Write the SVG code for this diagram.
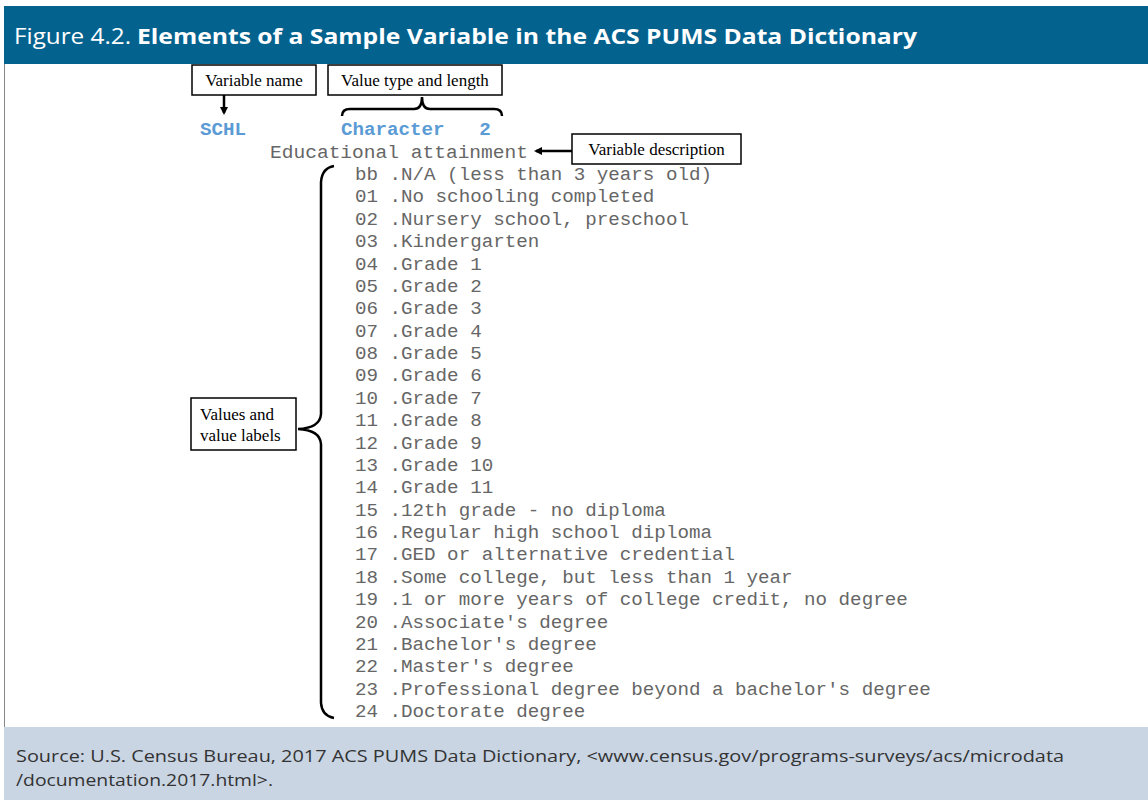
<svg xmlns="http://www.w3.org/2000/svg" width="1148" height="800" viewBox="0 0 1148 800">
<style>
.box{fill:#fff;stroke:#000;stroke-width:1.5}
.lbl{font-family:"Liberation Serif",serif;font-size:17px;fill:#000}
.mono{font-family:"Liberation Mono",monospace;font-size:19.2px;fill:#666}
.key{font-family:"Liberation Mono",monospace;font-size:19.2px;font-weight:bold;fill:#5b9bd5}
.ln{fill:none;stroke:#000;stroke-width:2.5}
.src{font-family:"Open Sans","Liberation Sans",sans-serif;font-size:17px;fill:#333}
</style>
<defs>
<marker id="ah" markerWidth="8" markerHeight="8" refX="6" refY="4" orient="auto" markerUnits="userSpaceOnUse">
<path d="M0,0 L8,4 L0,8 Z" fill="#000"/>
</marker>
</defs>
<rect x="0" y="0" width="1148" height="800" fill="#fff"/>
<rect x="4" y="6" width="1144" height="58" fill="#04628f"/>
<text x="14" y="44" font-family="'Open Sans','Liberation Sans',sans-serif" font-size="22" fill="#fff" textLength="117" lengthAdjust="spacingAndGlyphs">Figure 4.2.</text>
<text x="137" y="44" font-family="'Open Sans','Liberation Sans',sans-serif" font-size="22" font-weight="bold" fill="#fff" textLength="780" lengthAdjust="spacingAndGlyphs">Elements of a Sample Variable in the ACS PUMS Data Dictionary</text>
<line x1="4.5" y1="64" x2="4.5" y2="727" stroke="#888" stroke-width="1"/>
<rect x="4" y="727" width="1144" height="73" fill="#c9d5e3"/>
<text class="src" x="16" y="762" textLength="1048" lengthAdjust="spacingAndGlyphs">Source: U.S. Census Bureau, 2017 ACS PUMS Data Dictionary, &lt;www.census.gov/programs-surveys/acs/microdata</text>
<text class="src" x="16" y="786" textLength="257" lengthAdjust="spacingAndGlyphs">/documentation.2017.html&gt;.</text>

<g id="dictionary">
<text class="key" x="200" y="135">SCHL</text>
<text class="key" x="341" y="135" xml:space="preserve">Character   2</text>
<text class="mono" x="270" y="158" textLength="258" lengthAdjust="spacingAndGlyphs">Educational attainment</text>
<g class="mono">
<text x="355" y="180" xml:space="preserve">bb .N/A (less than 3 years old)</text>
<text x="355" y="202.4">01 .No schooling completed</text>
<text x="355" y="224.8">02 .Nursery school, preschool</text>
<text x="355" y="247.1">03 .Kindergarten</text>
<text x="355" y="269.5">04 .Grade 1</text>
<text x="355" y="291.9">05 .Grade 2</text>
<text x="355" y="314.3">06 .Grade 3</text>
<text x="355" y="336.6">07 .Grade 4</text>
<text x="355" y="359">08 .Grade 5</text>
<text x="355" y="381.4">09 .Grade 6</text>
<text x="355" y="403.8">10 .Grade 7</text>
<text x="355" y="426.1">11 .Grade 8</text>
<text x="355" y="448.5">12 .Grade 9</text>
<text x="355" y="470.9">13 .Grade 10</text>
<text x="355" y="493.3">14 .Grade 11</text>
<text x="355" y="515.6">15 .12th grade - no diploma</text>
<text x="355" y="538">16 .Regular high school diploma</text>
<text x="355" y="560.4">17 .GED or alternative credential</text>
<text x="355" y="582.8">18 .Some college, but less than 1 year</text>
<text x="355" y="605.1">19 .1 or more years of college credit, no degree</text>
<text x="355" y="627.5">20 .Associate's degree</text>
<text x="355" y="649.9">21 .Bachelor's degree</text>
<text x="355" y="672.3">22 .Master's degree</text>
<text x="355" y="694.6">23 .Professional degree beyond a bachelor's degree</text>
<text x="355" y="717">24 .Doctorate degree</text>
</g>
</g>

<g id="node-variable-name">
<rect class="box" x="192" y="65" width="124" height="30"/>
<text class="lbl" x="254" y="86" text-anchor="middle">Variable name</text>
</g>
<g id="node-value-type">
<rect class="box" x="328" y="65" width="174" height="30"/>
<text class="lbl" x="415" y="86" text-anchor="middle">Value type and length</text>
</g>
<g id="node-variable-description">
<rect class="box" x="572" y="134" width="169" height="30"/>
<text class="lbl" x="656.5" y="155" text-anchor="middle">Variable description</text>
</g>
<g id="node-values">
<rect class="box" x="191" y="398" width="105" height="52"/>
<text class="lbl" x="200" y="420">Values and</text>
<text class="lbl" x="200" y="441">value labels</text>
</g>

<g id="connectors">
<line class="ln" x1="224" y1="95" x2="224" y2="113" marker-end="url(#ah)"/>
<line class="ln" x1="572" y1="151" x2="536" y2="151" marker-end="url(#ah)"/>
<path class="ln" d="M342,116 Q342,109 350,109 L414,109 Q422,109 422,97 Q422,109 430,109 L494,109 Q502,109 502,116"/>
<path class="ln" d="M334,166 Q322,168 321,182 L321,414 Q320,428 298,429 Q320,430 321,444 L321,703 Q322,716 334,718"/>
</g>
</svg>
